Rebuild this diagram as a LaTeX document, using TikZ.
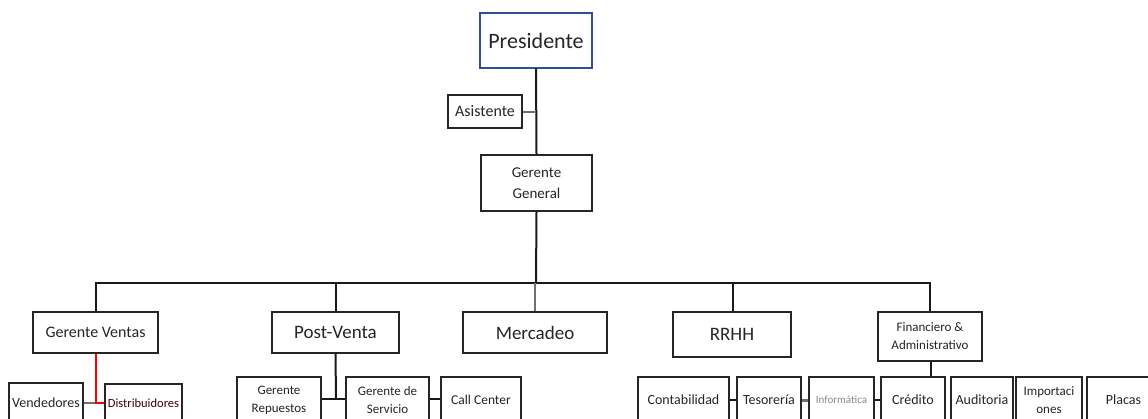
\documentclass[tikz,border=0pt]{standalone}
\usepackage{fontspec}
\setmainfont{Carlito}
\definecolor{presblue}{HTML}{2F4F8F}
\definecolor{linegray}{HTML}{707070}
\definecolor{txtgray}{HTML}{8A8A8A}
\begin{document}
\begin{tikzpicture}[x=1pt,y=-1pt,
  box/.style={draw=black!85, line width=1.4pt, fill=white, inner sep=0pt, align=center, text=black!85},
  conn/.style={draw=black!90, line width=2pt},
  gconn/.style={draw=linegray, line width=2.4pt},
  fA/.style={font=\fontsize{22}{26}\selectfont},
  fB/.style={font=\fontsize{19}{23}\selectfont},
  fC/.style={font=\fontsize{16}{21}\selectfont},
  fD/.style={font=\fontsize{14}{19}\selectfont},
  fE/.style={font=\fontsize{13}{18}\selectfont}]
\clip (0,0) rectangle (1148,418);
\fill[white] (0,0) rectangle (1148,418);
% top
\node[box, draw=presblue, line width=1.2pt, fA, minimum width=112pt, minimum height=55pt] (pres) at (536,40.5) {Presidente};
\node[box, fD, font=\fontsize{16}{20}\selectfont, minimum width=74pt, minimum height=33pt] (asis) at (485,111.5) {Asistente};
\node[box, fC, font=\fontsize{15}{21}\selectfont, minimum width=111pt, minimum height=56pt] (gg) at (536.5,183) {Gerente\\General};
% level 2
\node[box, fC, minimum width=125pt, minimum height=41pt] (gv) at (95.5,332.5) {Gerente Ventas};
\node[box, fB, minimum width=127pt, minimum height=41pt] (pv) at (335.5,332.5) {Post-Venta};
\node[box, fB, minimum width=144pt, minimum height=41pt] (merc) at (535,332.5) {Mercadeo};
\node[box, fB, minimum width=118pt, minimum height=45pt] (rrhh) at (732,334.5) {RRHH};
\node[box, fE, minimum width=104pt, minimum height=49pt] (fin) at (930,336.5) {Financiero \&\\Administrativo};
% level 3
\node[box, fD, minimum width=74pt, minimum height=39pt] (vend) at (46,402.5) {Vendedores};
\node[box, font=\fontsize{12.5}{16}\selectfont, text=black!75!red, minimum width=77pt, minimum height=38pt] (dist) at (143.5,403) {Distribuidores};
\node[box, fE, minimum width=84pt, minimum height=46pt] (grep) at (279,400) {Gerente\\Repuestos};
\node[box, fE, minimum width=83pt, minimum height=46pt] (gserv) at (387.5,400) {Gerente de\\Servicio};
\node[box, fD, font=\fontsize{13.5}{18}\selectfont, minimum width=80pt, minimum height=46pt] (call) at (481,400) {Call Center};
\node[box, fD, minimum width=91pt, minimum height=46pt] (cont) at (683.5,400) {Contabilidad};
\node[box, fD, minimum width=64pt, minimum height=46pt] (tes) at (769,400) {Tesorería};
\node[box, font=\fontsize{11}{14}\selectfont, text=txtgray, minimum width=65pt, minimum height=46pt] (inf) at (841.5,400) {Informática};
\node[box, fD, minimum width=64pt, minimum height=46pt] (cred) at (913,400) {Crédito};
\node[box, fD, minimum width=62pt, minimum height=46pt] (aud) at (982,400) {Auditoria};
\node[box, fE, minimum width=66pt, minimum height=46pt] (imp) at (1049,400) {Importaci\\ones};
\node[box, fD, minimum width=73pt, minimum height=46pt] (plac) at (1123.5,400) {Placas};
% connectors
\coordinate (bus) at (536,283);
\coordinate (asj) at (536,111.5);
\draw[conn] (pres.south) -- (gg.north);
\draw[gconn, line width=2pt] (asis.east) -- (asj);
\draw[conn] (gg.south) -- (bus);
\draw[conn] (gv.north) |- (bus) -| (fin.north);
\draw[conn] (pv.north) -- (pv.north |- bus);
\draw[draw=linegray, line width=2pt] (merc.north) -- (merc.north |- bus);
\draw[conn] ([xshift=1pt]rrhh.north) -- ([xshift=1pt]rrhh.north |- bus);
% ventas
\coordinate (vj) at (96,403);
\draw[gconn, line width=2.6pt] (vend.east |- vj) -- (vj);
\draw[red, line width=1.6pt] ([xshift=0.5pt]gv.south) |- (dist.west |- vj);
% post-venta
\coordinate (pj) at (336,399);
\draw[conn] (pv.south) -- (pj);
\draw[conn, line width=1.6pt] (grep.east |- pj) -- (gserv.west |- pj);
\draw[conn, line width=1.6pt] (gserv.east |- pj) -- (call.west |- pj);
% financiero
\draw[conn] ([xshift=1pt]fin.south) -- ([xshift=1pt]fin.south |- cred.north);
\draw[conn, line width=1.6pt] (cont.east) -- (tes.west);
\draw[gconn, line width=3pt] (tes.east) -- (inf.west);
\draw[conn, line width=1.8pt] (inf.east) -- (cred.west);
\end{tikzpicture}
\end{document}
